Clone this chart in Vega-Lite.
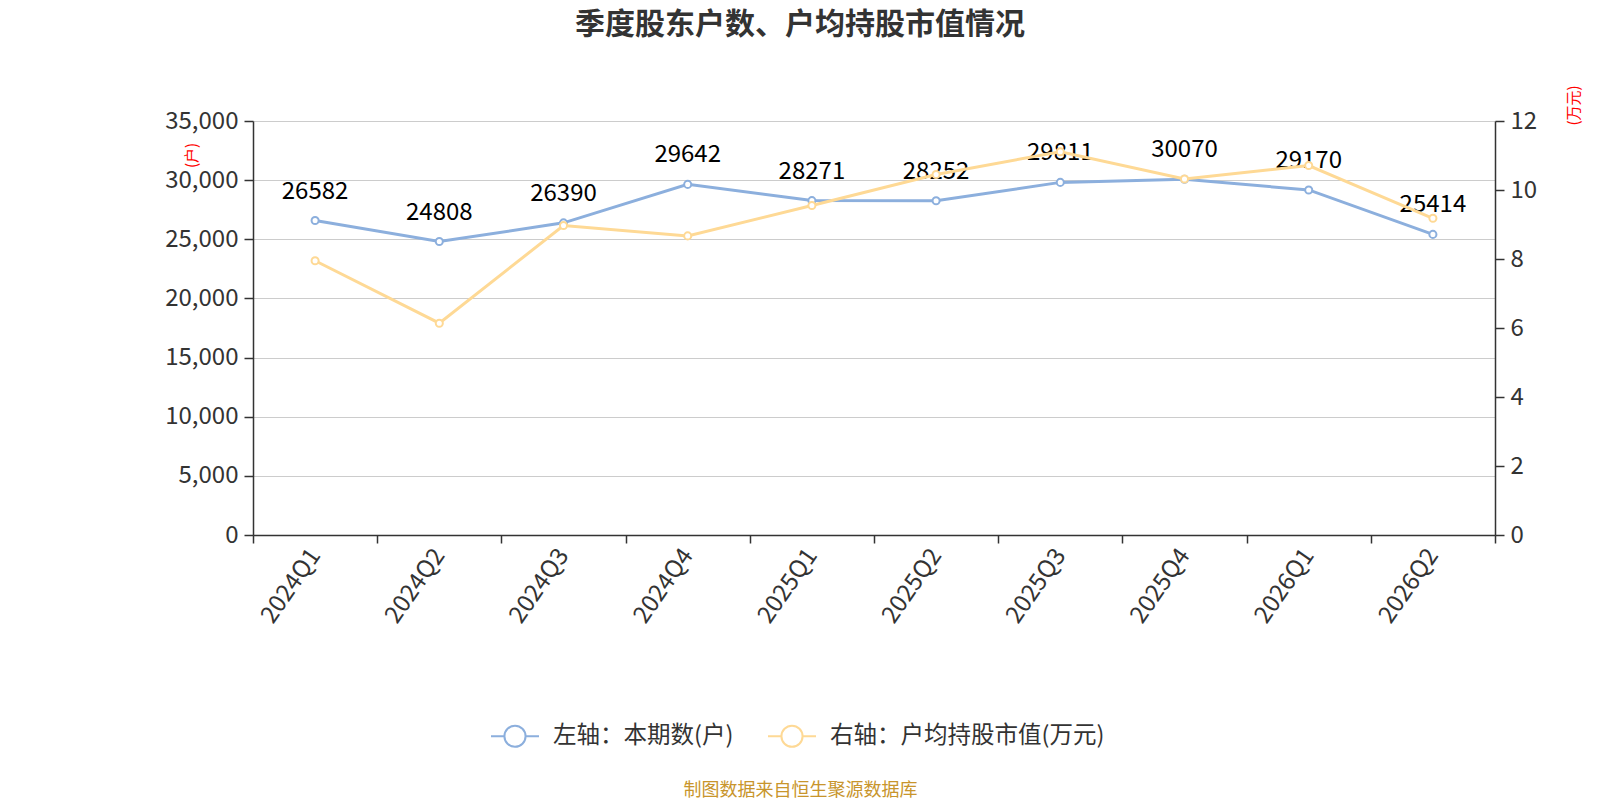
{
  "$schema": "https://vega.github.io/schema/vega-lite/v6.json",
  "width": 1242,
  "height": 414,
  "autosize": {"type": "none"},
  "padding": {"left": 253, "top": 121, "right": 105, "bottom": 265},
  "background": "white",
  "config": {
    "font": "Noto Sans CJK SC",
    "view": {"stroke": null},
    "axis": {
      "domainColor": "#333333",
      "domainWidth": 1.5,
      "tickColor": "#333333",
      "tickWidth": 1.5,
      "tickSize": 9,
      "labelColor": "#333333",
      "labelFontSize": 24,
      "labelFont": "Noto Sans CJK SC",
      "gridColor": "#cccccc",
      "gridWidth": 1
    },
    "legend": {
      "orient": "none",
      "legendX": 237,
      "legendY": 590,
      "direction": "horizontal",
      "padding": 0,
      "labelFontSize": 23.5,
      "labelColor": "#333333",
      "labelLimit": 0,
      "labelOffset": 13,
      "columnPadding": 30,
      "symbolType": "M-1,0L-0.44,0M0.44,0L1,0M-0.44,0A0.44,0.44,0,1,1,0.44,0A0.44,0.44,0,1,1,-0.44,0Z",
      "symbolSize": 2304,
      "symbolStrokeWidth": 2,
      "symbolFillColor": "white"
    }
  },
  "title": {
    "text": "季度股东户数、户均持股市值情况",
    "fontSize": 30,
    "fontWeight": "bold",
    "color": "#333333",
    "anchor": "middle",
    "dx": -74,
    "offset": 45
  },
  "data": {
    "values": [
      {"quarter": "2024Q1", "holders": 26582, "value": 7.95},
      {"quarter": "2024Q2", "holders": 24808, "value": 6.14},
      {"quarter": "2024Q3", "holders": 26390, "value": 8.97},
      {"quarter": "2024Q4", "holders": 29642, "value": 8.67},
      {"quarter": "2025Q1", "holders": 28271, "value": 9.55},
      {"quarter": "2025Q2", "holders": 28252, "value": 10.45},
      {"quarter": "2025Q3", "holders": 29811, "value": 11.11},
      {"quarter": "2025Q4", "holders": 30070, "value": 10.32},
      {"quarter": "2026Q1", "holders": 29170, "value": 10.71},
      {"quarter": "2026Q2", "holders": 25414, "value": 9.18}
    ]
  },
  "encoding": {
    "x": {
      "field": "quarter",
      "type": "ordinal",
      "sort": null,
      "scale": {"type": "band", "paddingInner": 0, "paddingOuter": 0},
      "axis": {
        "title": "制图数据来自恒生聚源数据库",
        "titleColor": "#c8952c",
        "titleFontSize": 18,
        "titleFontWeight": "normal",
        "titleX": 547,
        "titleY": 255,
        "titleAlign": "center",
        "titleBaseline": "middle",
        "labelAngle": -55,
        "labelAlign": "right",
        "labelBaseline": "middle",
        "labelPadding": 8,
        "tickBand": "extent",
        "tickSize": 8,
        "grid": false
      }
    }
  },
  "layer": [
    {
      "encoding": {
        "y": {
          "field": "holders",
          "type": "quantitative",
          "scale": {"domain": [0, 35000]},
          "axis": {
            "orient": "left",
            "values": [0, 5000, 10000, 15000, 20000, 25000, 30000, 35000],
            "format": ",d",
            "labelPadding": 6,
            "title": "(户)",
            "titleColor": "#ff0000",
            "titleFontSize": 15,
            "titleFontWeight": "normal",
            "titleAngle": 270,
            "titleX": -62,
            "titleY": 34,
            "titleAlign": "center",
            "titleBaseline": "middle"
          }
        }
      },
      "layer": [
        {
          "mark": {"type": "line", "strokeWidth": 3},
          "encoding": {
            "color": {
              "datum": "左轴：本期数(户)",
              "type": "nominal",
              "scale": {
                "domain": ["左轴：本期数(户)", "右轴：户均持股市值(万元)"],
                "range": ["#8cafdd", "#fed995"]
              },
              "legend": {"title": null}
            }
          }
        },
        {
          "mark": {"type": "point", "shape": "circle", "filled": true, "fill": "white", "stroke": "#8cafdd", "strokeWidth": 2, "size": 50, "opacity": 1}
        },
        {
          "mark": {"type": "text", "fontSize": 24, "color": "#000000", "dy": -29, "baseline": "middle"},
          "encoding": {"text": {"field": "holders", "type": "quantitative", "format": "d"}}
        }
      ]
    },
    {
      "encoding": {
        "y": {
          "field": "value",
          "type": "quantitative",
          "scale": {"domain": [0, 12]},
          "axis": {
            "orient": "right",
            "values": [0, 2, 4, 6, 8, 10, 12],
            "grid": false,
            "labelPadding": 6,
            "title": "(万元)",
            "titleColor": "#ff0000",
            "titleFontSize": 15,
            "titleFontWeight": "normal",
            "titleAngle": 270,
            "titleX": 78,
            "titleY": -16,
            "titleAlign": "center",
            "titleBaseline": "middle"
          }
        }
      },
      "layer": [
        {
          "mark": {"type": "line", "strokeWidth": 3},
          "encoding": {
            "color": {"datum": "右轴：户均持股市值(万元)", "type": "nominal"}
          }
        },
        {
          "mark": {"type": "point", "shape": "circle", "filled": true, "fill": "white", "stroke": "#fed995", "strokeWidth": 2, "size": 50, "opacity": 1}
        }
      ]
    }
  ],
  "resolve": {"scale": {"y": "independent"}}
}
